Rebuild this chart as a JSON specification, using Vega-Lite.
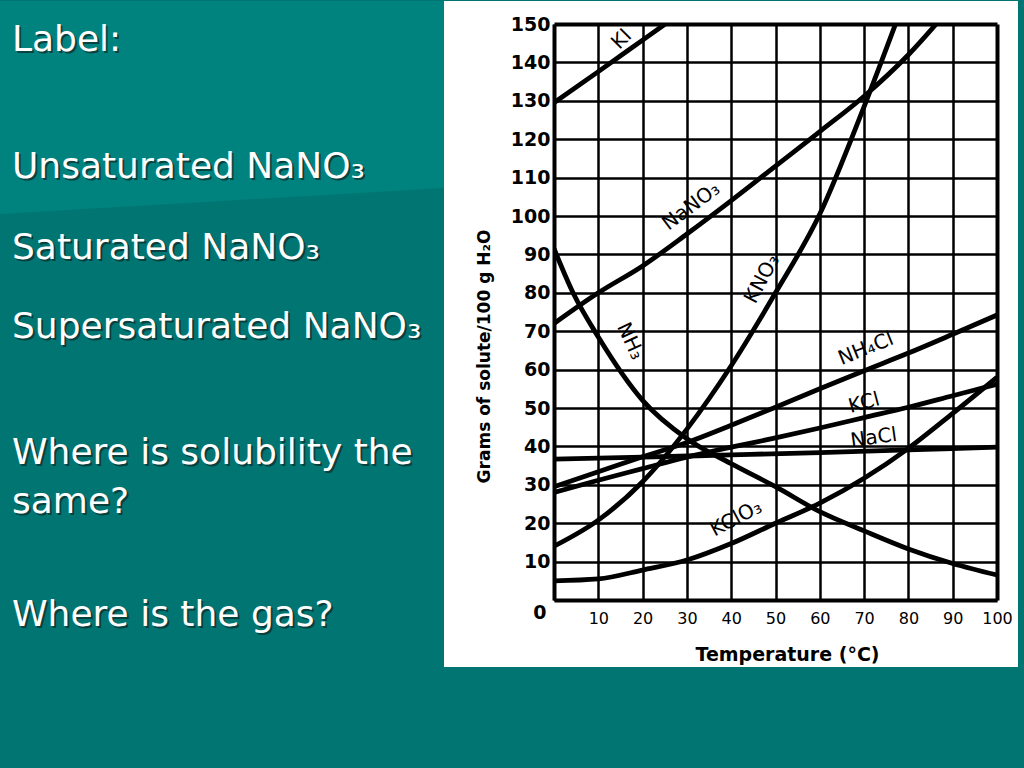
{
  "$schema": "https://vega.github.io/schema/vega-lite/v6.json",
  "background": "#007571",
  "padding": {"left": 0, "top": 0, "right": 6, "bottom": 0},
  "spacing": 0,
  "config": {"view": {"stroke": null}, "font": "DejaVu Sans"},
  "datasets": {
    "slide": [
      {"text": "Label:", "pos": 50},
      {"text": "Unsaturated NaNO₃", "pos": 177},
      {"text": "Saturated NaNO₃", "pos": 258},
      {"text": "Supersaturated NaNO₃", "pos": 337},
      {"text": "Where is solubility the", "pos": 463},
      {"text": "same?", "pos": 512},
      {"text": "Where is the gas?", "pos": 625}
    ],
    "band": [{"x": 0, "y": 213}, {"x": 444, "y": 187}],
    "curves": [
      {"compound": "KI", "t": 0, "s": 129.5}, {"compound": "KI", "t": 10, "s": 137.6}, {"compound": "KI", "t": 20, "s": 145.8}, {"compound": "KI", "t": 30, "s": 154},
      {"compound": "NaNO3", "t": 0, "s": 72}, {"compound": "NaNO3", "t": 10, "s": 80}, {"compound": "NaNO3", "t": 20, "s": 87}, {"compound": "NaNO3", "t": 30, "s": 95.3}, {"compound": "NaNO3", "t": 40, "s": 104}, {"compound": "NaNO3", "t": 50, "s": 113}, {"compound": "NaNO3", "t": 60, "s": 122}, {"compound": "NaNO3", "t": 70, "s": 131.2}, {"compound": "NaNO3", "t": 80, "s": 142}, {"compound": "NaNO3", "t": 90, "s": 155},
      {"compound": "KNO3", "t": 0, "s": 14}, {"compound": "KNO3", "t": 10, "s": 20.8}, {"compound": "KNO3", "t": 20, "s": 30.8}, {"compound": "KNO3", "t": 30, "s": 44.5}, {"compound": "KNO3", "t": 40, "s": 61}, {"compound": "KNO3", "t": 50, "s": 80}, {"compound": "KNO3", "t": 60, "s": 100.5}, {"compound": "KNO3", "t": 70, "s": 128.5}, {"compound": "KNO3", "t": 80, "s": 159},
      {"compound": "NH3", "t": 0, "s": 91.5}, {"compound": "NH3", "t": 4.3, "s": 80}, {"compound": "NH3", "t": 10, "s": 68.5}, {"compound": "NH3", "t": 20, "s": 52}, {"compound": "NH3", "t": 30, "s": 42}, {"compound": "NH3", "t": 40, "s": 35.5}, {"compound": "NH3", "t": 50, "s": 29.5}, {"compound": "NH3", "t": 60, "s": 23}, {"compound": "NH3", "t": 70, "s": 18}, {"compound": "NH3", "t": 80, "s": 13.3}, {"compound": "NH3", "t": 90, "s": 9.5}, {"compound": "NH3", "t": 100, "s": 6.5},
      {"compound": "NH4Cl", "t": 0, "s": 29.5}, {"compound": "NH4Cl", "t": 10, "s": 33.4}, {"compound": "NH4Cl", "t": 20, "s": 37.3}, {"compound": "NH4Cl", "t": 30, "s": 41}, {"compound": "NH4Cl", "t": 40, "s": 45.5}, {"compound": "NH4Cl", "t": 50, "s": 50.2}, {"compound": "NH4Cl", "t": 60, "s": 55}, {"compound": "NH4Cl", "t": 70, "s": 59.7}, {"compound": "NH4Cl", "t": 80, "s": 64.3}, {"compound": "NH4Cl", "t": 90, "s": 69.2}, {"compound": "NH4Cl", "t": 100, "s": 74.2},
      {"compound": "KCl", "t": 0, "s": 28}, {"compound": "KCl", "t": 10, "s": 31.2}, {"compound": "KCl", "t": 20, "s": 34.2}, {"compound": "KCl", "t": 30, "s": 37.2}, {"compound": "KCl", "t": 40, "s": 39.8}, {"compound": "KCl", "t": 50, "s": 42.2}, {"compound": "KCl", "t": 60, "s": 44.8}, {"compound": "KCl", "t": 70, "s": 47.5}, {"compound": "KCl", "t": 80, "s": 50.2}, {"compound": "KCl", "t": 90, "s": 53.2}, {"compound": "KCl", "t": 100, "s": 56.2},
      {"compound": "NaCl", "t": 0, "s": 36.7}, {"compound": "NaCl", "t": 20, "s": 37.2}, {"compound": "NaCl", "t": 40, "s": 37.8}, {"compound": "NaCl", "t": 60, "s": 38.4}, {"compound": "NaCl", "t": 80, "s": 39.1}, {"compound": "NaCl", "t": 100, "s": 39.8},
      {"compound": "KClO3", "t": 0, "s": 5}, {"compound": "KClO3", "t": 10, "s": 5.5}, {"compound": "KClO3", "t": 20, "s": 7.8}, {"compound": "KClO3", "t": 30, "s": 10.4}, {"compound": "KClO3", "t": 40, "s": 14.7}, {"compound": "KClO3", "t": 50, "s": 20}, {"compound": "KClO3", "t": 60, "s": 25.2}, {"compound": "KClO3", "t": 70, "s": 31.7}, {"compound": "KClO3", "t": 80, "s": 39.5}, {"compound": "KClO3", "t": 90, "s": 48.6}, {"compound": "KClO3", "t": 100, "s": 58}
    ],
    "labels": [
      {"label": "KI", "t": 15.3, "s": 146},
      {"label": "NaNO₃", "t": 31, "s": 102.5},
      {"label": "KNO₃", "t": 47, "s": 83.6},
      {"label": "NH₃", "t": 17.2, "s": 67.4},
      {"label": "NH₄Cl", "t": 70.4, "s": 65.4},
      {"label": "KCl", "t": 70, "s": 51.3},
      {"label": "NaCl", "t": 72.2, "s": 42.2},
      {"label": "KClO₃", "t": 41.1, "s": 21.2}
    ]
  },
  "hconcat": [
    {
      "width": 444,
      "height": 745,
      "layer": [
        {
          "data": {"name": "band"},
          "mark": {"type": "area", "color": "#00837e", "clip": false},
          "encoding": {
            "x": {"field": "x", "type": "quantitative", "scale": {"domain": [0, 444], "nice": false, "zero": false}, "axis": null},
            "y": {"field": "y", "type": "quantitative", "scale": {"domain": [23, 768], "reverse": true, "nice": false, "zero": false}, "axis": null},
            "y2": {"datum": 0}
          }
        },
        {
          "data": {"name": "slide"},
          "mark": {"type": "text", "align": "left", "baseline": "alphabetic", "font": "DejaVu Sans", "fontSize": 36, "color": "#0d2e2c", "opacity": 0.75, "dx": 2, "dy": 2, "clip": true},
          "encoding": {
            "x": {"datum": 12, "type": "quantitative", "scale": {"domain": [0, 444], "nice": false, "zero": false}, "axis": null},
            "y": {"field": "pos", "type": "quantitative", "scale": {"domain": [23, 768], "reverse": true, "nice": false, "zero": false}, "axis": null},
            "text": {"field": "text"}
          }
        },
        {
          "data": {"name": "slide"},
          "mark": {"type": "text", "align": "left", "baseline": "alphabetic", "font": "DejaVu Sans", "fontSize": 36, "color": "white", "clip": true},
          "encoding": {
            "x": {"datum": 12, "type": "quantitative", "scale": {"domain": [0, 444], "nice": false, "zero": false}, "axis": null},
            "y": {"field": "pos", "type": "quantitative", "scale": {"domain": [23, 768], "reverse": true, "nice": false, "zero": false}, "axis": null},
            "text": {"field": "text"}
          }
        }
      ]
    },
    {
      "width": 443,
      "height": 576,
      "layer": [
        {
          "data": {"values": [{}]},
          "mark": {"type": "rect", "color": "white", "clip": false},
          "encoding": {
            "x": {
              "datum": -24.83, "type": "quantitative",
              "scale": {"domain": [0, 100], "nice": false, "zero": false},
              "axis": {
                "title": "Temperature (°C)",
                "values": [0, 10, 20, 30, 40, 50, 60, 70, 80, 90, 100],
                "grid": true, "gridColor": "black", "gridOpacity": 1,
                "gridWidth": {"condition": {"test": "datum.value === 100", "value": 4}, "value": 2.5},
                "domain": true, "domainColor": "black", "domainWidth": 4,
                "ticks": false,
                "labelExpr": "datum.value === 0 ? '' : datum.label",
                "labelFont": "DejaVu Sans", "labelFontSize": 16, "labelColor": "black", "labelPadding": 10,
                "labelFlush": false, "labelOverlap": false, "labelBound": false,
                "titleFont": "DejaVu Sans", "titleFontSize": 19, "titleFontWeight": "bold", "titleColor": "black",
                "titleX": 233, "titleY": 54, "titleBaseline": "middle", "titleAlign": "center",
                "zindex": 1
              }
            },
            "x2": {"datum": 104.74},
            "y": {
              "datum": -17.45, "type": "quantitative",
              "scale": {"domain": [0, 150], "nice": false, "zero": false},
              "axis": {
                "title": "Grams of solute/100 g H₂O",
                "values": [0, 10, 20, 30, 40, 50, 60, 70, 80, 90, 100, 110, 120, 130, 140, 150],
                "grid": true, "gridColor": "black", "gridOpacity": 1,
                "gridWidth": {"condition": {"test": "datum.value === 150", "value": 4}, "value": 2.5},
                "domain": true, "domainColor": "black", "domainWidth": 4,
                "ticks": false,
                "labelFont": "DejaVu Sans", "labelFontSize": 19, "labelFontWeight": "bold", "labelColor": "black",
                "labelPadding": {"condition": {"test": "datum.value === 0", "value": 8}, "value": 4},
                "labelOffset": {"condition": {"test": "datum.value === 0", "value": 12}, "value": 0},
                "labelFlush": false, "labelOverlap": false, "labelBound": false,
                "titleFont": "DejaVu Sans", "titleFontSize": 17, "titleFontWeight": "bold", "titleColor": "black",
                "titleX": -70, "titleY": 332, "titleBaseline": "middle", "titleAlign": "center", "titleAngle": -90,
                "zindex": 1
              }
            },
            "y2": {"datum": 155.99}
          }
        },
        {
          "encoding": {
            "x": {
              "field": "t", "type": "quantitative",
              "scale": {"domain": [0, 100], "nice": false, "zero": false},
              "axis": {
                "title": "Temperature (°C)",
                "values": [0, 10, 20, 30, 40, 50, 60, 70, 80, 90, 100],
                "grid": true, "gridColor": "black", "gridOpacity": 1,
                "gridWidth": {"condition": {"test": "datum.value === 100", "value": 4}, "value": 2.5},
                "domain": true, "domainColor": "black", "domainWidth": 4,
                "ticks": false,
                "labelExpr": "datum.value === 0 ? '' : datum.label",
                "labelFont": "DejaVu Sans", "labelFontSize": 16, "labelColor": "black", "labelPadding": 10,
                "labelFlush": false, "labelOverlap": false, "labelBound": false,
                "titleFont": "DejaVu Sans", "titleFontSize": 19, "titleFontWeight": "bold", "titleColor": "black",
                "titleX": 233, "titleY": 54, "titleBaseline": "middle", "titleAlign": "center",
                "zindex": 1
              }
            },
            "y": {
              "field": "s", "type": "quantitative",
              "scale": {"domain": [0, 150], "nice": false, "zero": false},
              "axis": {
                "title": "Grams of solute/100 g H₂O",
                "values": [0, 10, 20, 30, 40, 50, 60, 70, 80, 90, 100, 110, 120, 130, 140, 150],
                "grid": true, "gridColor": "black", "gridOpacity": 1,
                "gridWidth": {"condition": {"test": "datum.value === 150", "value": 4}, "value": 2.5},
                "domain": true, "domainColor": "black", "domainWidth": 4,
                "ticks": false,
                "labelFont": "DejaVu Sans", "labelFontSize": 19, "labelFontWeight": "bold", "labelColor": "black",
                "labelPadding": {"condition": {"test": "datum.value === 0", "value": 8}, "value": 4},
                "labelOffset": {"condition": {"test": "datum.value === 0", "value": 12}, "value": 0},
                "labelFlush": false, "labelOverlap": false, "labelBound": false,
                "titleFont": "DejaVu Sans", "titleFontSize": 17, "titleFontWeight": "bold", "titleColor": "black",
                "titleX": -70, "titleY": 332, "titleBaseline": "middle", "titleAlign": "center", "titleAngle": -90,
                "zindex": 1
              }
            }
          },
          "layer": [
            {
              "data": {"name": "curves"},
              "mark": {"type": "line", "color": "black", "strokeWidth": 4.8, "interpolate": "monotone", "clip": true},
              "encoding": {"detail": {"field": "compound"}}
            },
            {
              "data": {"name": "labels"},
              "transform": [{"filter": "datum.label === 'KI'"}],
              "mark": {"type": "text", "font": "DejaVu Sans", "fontSize": 20, "color": "black", "angle": -45},
              "encoding": {"text": {"field": "label"}}
            },
            {
              "data": {"name": "labels"},
              "transform": [{"filter": "datum.label === 'NaNO₃'"}],
              "mark": {"type": "text", "font": "DejaVu Sans", "fontSize": 20, "color": "black", "angle": -37},
              "encoding": {"text": {"field": "label"}}
            },
            {
              "data": {"name": "labels"},
              "transform": [{"filter": "datum.label === 'KNO₃'"}],
              "mark": {"type": "text", "font": "DejaVu Sans", "fontSize": 20, "color": "black", "angle": -62},
              "encoding": {"text": {"field": "label"}}
            },
            {
              "data": {"name": "labels"},
              "transform": [{"filter": "datum.label === 'NH₃'"}],
              "mark": {"type": "text", "font": "DejaVu Sans", "fontSize": 20, "color": "black", "angle": 65},
              "encoding": {"text": {"field": "label"}}
            },
            {
              "data": {"name": "labels"},
              "transform": [{"filter": "datum.label === 'NH₄Cl'"}],
              "mark": {"type": "text", "font": "DejaVu Sans", "fontSize": 20, "color": "black", "angle": -22},
              "encoding": {"text": {"field": "label"}}
            },
            {
              "data": {"name": "labels"},
              "transform": [{"filter": "datum.label === 'KCl'"}],
              "mark": {"type": "text", "font": "DejaVu Sans", "fontSize": 20, "color": "black", "angle": -15},
              "encoding": {"text": {"field": "label"}}
            },
            {
              "data": {"name": "labels"},
              "transform": [{"filter": "datum.label === 'NaCl'"}],
              "mark": {"type": "text", "font": "DejaVu Sans", "fontSize": 20, "color": "black", "angle": -8},
              "encoding": {"text": {"field": "label"}}
            },
            {
              "data": {"name": "labels"},
              "transform": [{"filter": "datum.label === 'KClO₃'"}],
              "mark": {"type": "text", "font": "DejaVu Sans", "fontSize": 20, "color": "black", "angle": -28},
              "encoding": {"text": {"field": "label"}}
            }
          ]
        }
      ]
    }
  ]
}
